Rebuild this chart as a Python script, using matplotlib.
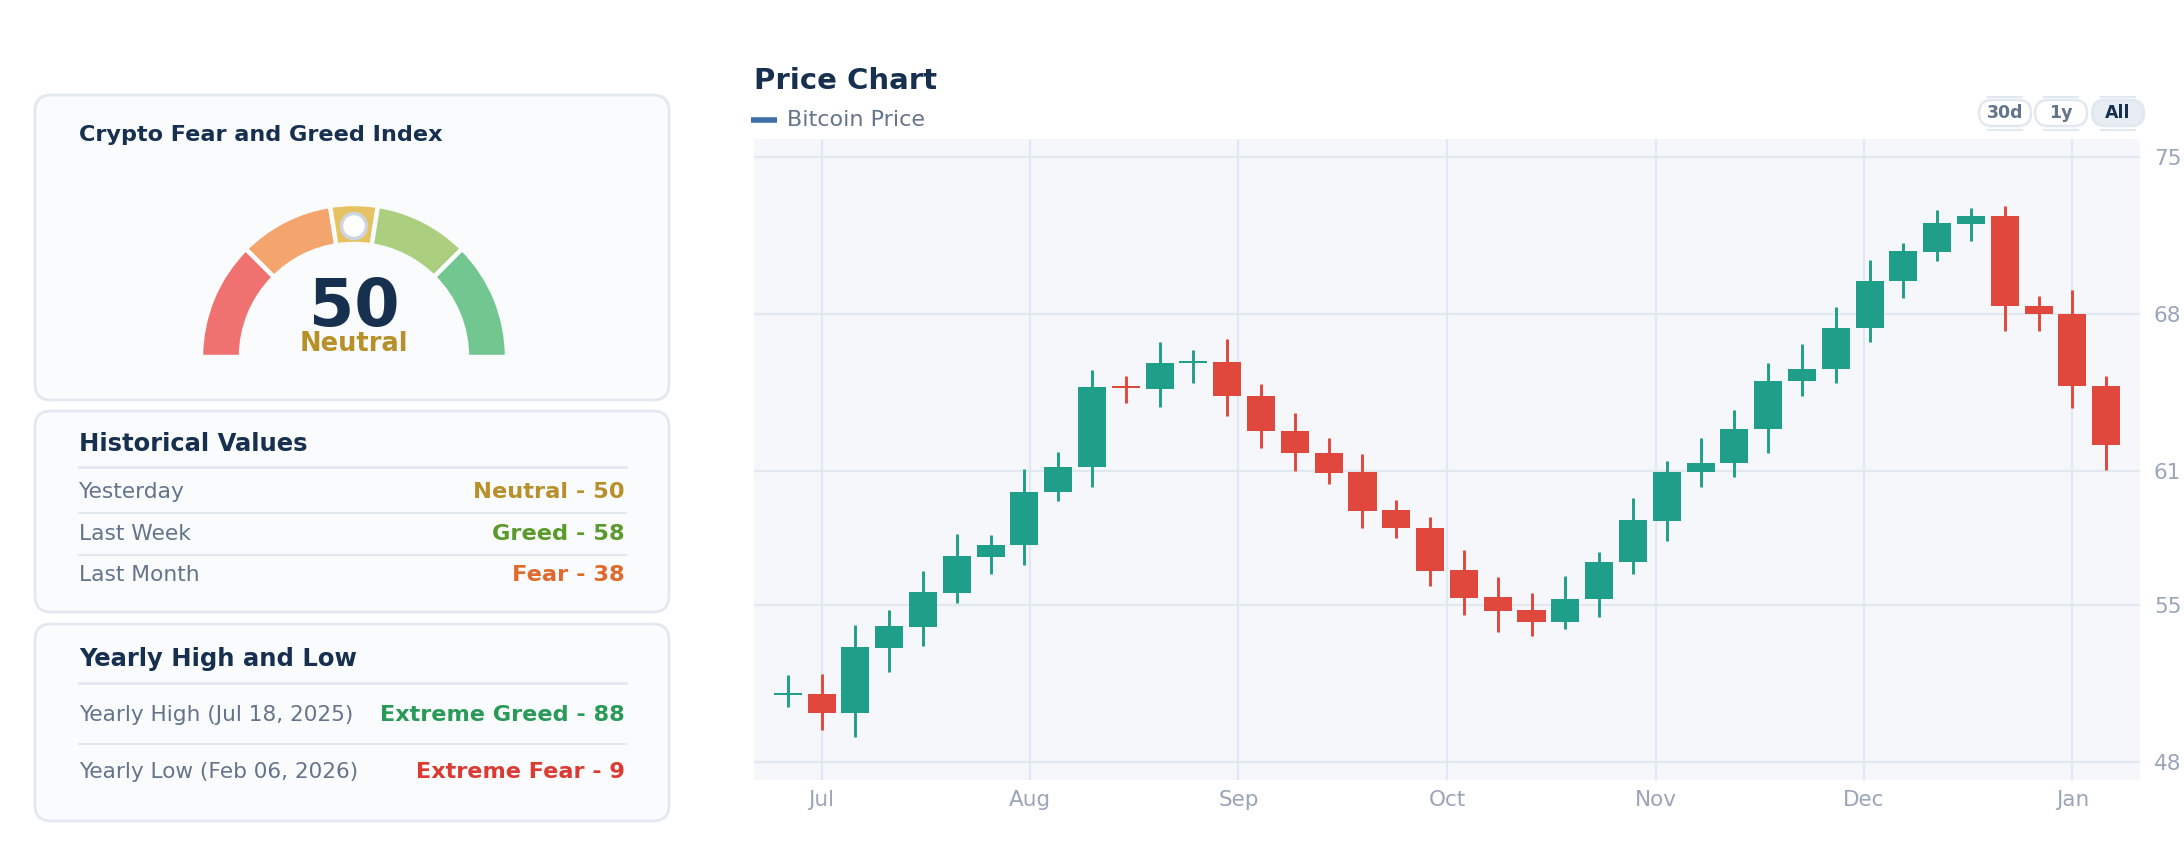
import matplotlib.pyplot as plt
import numpy as np
from matplotlib.patches import FancyBboxPatch, Wedge, Circle

W, H = 2184, 868

# candle data (one candle every few days, Jul -> Jan)
opens = [51.00, 51.02, 50.17, 53.09, 54.02, 55.56, 57.15, 57.68, 60.05, 61.16,
         64.72, 64.64, 65.82, 65.85, 64.32, 62.77, 61.78, 60.92, 59.23, 58.46,
         56.55, 55.36, 54.78, 54.26, 55.26, 56.91, 58.76, 60.94, 61.34, 62.85,
         65.00, 65.52, 67.35, 69.45, 70.78, 72.02, 72.36, 68.36, 68.00, 64.80]
highs = [51.88, 51.92, 54.10, 54.76, 56.53, 58.18, 58.14, 61.08, 61.84, 65.48,
         65.24, 66.73, 66.41, 66.89, 64.86, 63.57, 62.47, 61.74, 59.69, 58.94,
         57.46, 56.27, 55.56, 56.31, 57.38, 59.79, 61.44, 62.45, 63.71, 65.79,
         66.65, 68.30, 70.39, 71.18, 72.65, 72.75, 72.83, 68.82, 69.06, 65.22]
lows = [50.43, 49.41, 49.13, 52.00, 53.17, 55.08, 56.37, 56.81, 59.65, 60.29,
        64.03, 63.85, 64.92, 63.45, 62.02, 60.98, 60.39, 58.46, 58.00, 55.83,
        54.56, 53.79, 53.61, 53.93, 54.46, 56.41, 57.84, 60.29, 60.72, 61.80,
        64.34, 64.92, 66.75, 68.70, 70.35, 71.24, 67.25, 67.25, 63.81, 61.04]
closes = [51.02, 50.17, 53.13, 54.06, 55.58, 57.19, 57.70, 60.07, 61.18, 64.74,
          64.68, 65.81, 65.85, 64.32, 62.77, 61.78, 60.88, 59.19, 58.44, 56.53,
          55.32, 54.74, 54.26, 55.26, 56.91, 58.78, 60.96, 61.36, 62.87, 65.02,
          65.56, 67.37, 69.47, 70.80, 72.06, 72.36, 68.34, 68.00, 64.76, 62.14]

month_labels = ["Jul", "Aug", "Sep", "Oct", "Nov", "Dec", "Jan"]
month_pos = [1.0, 7.17, 13.33, 19.5, 25.67, 31.83, 38.0]
y_ticks = [48, 55, 61, 68, 75]

gauge_value = 50
gauge_label = "Neutral"
gauge_bounds = [0, 25, 45, 55, 75, 100]
gauge_colors = ["#f07270", "#f4a46d", "#e6c261", "#abcf7f", "#72c68f"]

hist_labels = ["Yesterday", "Last Week", "Last Month"]
hist_values = ["Neutral - 50", "Greed - 58", "Fear - 38"]
hist_colors = ["#b8902a", "#5b9a2c", "#e06a2c"]

year_labels = ["Yearly High (Jul 18, 2025)", "Yearly Low (Feb 06, 2026)"]
year_values = ["Extreme Greed - 88", "Extreme Fear - 9"]
year_colors = ["#2a9a58", "#dc3b33"]

NAVY = "#17304f"
GRAY = "#64748b"
LINE = "#e2e8f0"
CARD = "#fafbfd"
UP = "#1f9e89"
DOWN = "#e0483e"

fig = plt.figure(figsize=(W / 100, H / 100), dpi=100)
fig.patch.set_facecolor("white")

bg = fig.add_axes([0, 0, 1, 1])
bg.set_xlim(0, W)
bg.set_ylim(H, 0)
bg.axis("off")


def card(y0, y1):
    bg.add_patch(FancyBboxPatch((35, y0), 634, y1 - y0,
                                boxstyle="round,pad=0,rounding_size=16",
                                facecolor=CARD, edgecolor=LINE, linewidth=2))


card(95, 400)
card(411, 612)
card(624, 821)

bg.text(79, 135, "Crypto Fear and Greed Index", fontsize=16.1, fontweight="bold",
        color=NAVY, va="center", ha="left")

# historical values
bg.text(79, 444, "Historical Values", fontsize=17.5, fontweight="bold",
        color=NAVY, va="center", ha="left")
bg.plot([79, 626], [467, 467], color=LINE, lw=2)
row_y = [492, 534, 575]
for i, (lab, val, col) in enumerate(zip(hist_labels, hist_values, hist_colors)):
    bg.text(79, row_y[i], lab, fontsize=15.7, color=GRAY, va="center", ha="left")
    bg.text(625, row_y[i], val, fontsize=16.2, fontweight="bold", color=col,
            va="center", ha="right")
    if i < len(hist_labels) - 1:
        bg.plot([79, 626], [row_y[i] + 21, row_y[i] + 21], color=LINE, lw=1.5)

# yearly high / low
bg.text(79, 659, "Yearly High and Low", fontsize=17.5, fontweight="bold",
        color=NAVY, va="center", ha="left")
bg.plot([79, 626], [683, 683], color=LINE, lw=2)
row_y = [715, 772]
for i, (lab, val, col) in enumerate(zip(year_labels, year_values, year_colors)):
    bg.text(79, row_y[i], lab, fontsize=15.6, color=GRAY, va="center", ha="left")
    bg.text(625, row_y[i], val, fontsize=16.1, fontweight="bold", color=col,
            va="center", ha="right")
bg.plot([79, 626], [744, 744], color=LINE, lw=1.5)

# price chart header
bg.text(754, 81, "Price Chart", fontsize=21, fontweight="bold", color=NAVY,
        va="center", ha="left")
bg.plot([751, 777], [120, 120], color="#3e6ea5", lw=4, solid_capstyle="butt")
bg.text(787, 120, "Bitcoin Price", fontsize=16, color=GRAY, va="center", ha="left")

# range buttons
buttons = ["30d", "1y", "All"]
btn_x = [2005, 2061, 2118]
for b, cx in zip(buttons, btn_x):
    active = b == "All"
    bg.add_patch(FancyBboxPatch((cx - 26, 100), 52, 26,
                                boxstyle="round,pad=0,rounding_size=13",
                                facecolor="#e8edf3" if active else "white",
                                edgecolor=LINE, linewidth=1.8))
    bg.plot([cx - 17, cx + 17], [97, 97], color=LINE, lw=1.5)
    bg.plot([cx - 17, cx + 17], [129.5, 129.5], color=LINE, lw=1.5)
    bg.text(cx, 113, b, fontsize=12.5, fontweight="bold",
            color=NAVY if active else GRAY, va="center", ha="center")

# gauge
ga = fig.add_axes([179 / W, 1 - 380 / H, 350 / W, 200 / H])
ga.set_xlim(-175, 175)
ga.set_ylim(-25, 175)
ga.set_aspect("equal")
ga.axis("off")
for lo, hi, col in zip(gauge_bounds[:-1], gauge_bounds[1:], gauge_colors):
    ga.add_patch(Wedge((0, -2), 153, 180 - 1.8 * hi, 180 - 1.8 * lo, width=40,
                       facecolor=col, edgecolor=CARD, linewidth=3.2))
ang = np.radians(180 - 1.8 * gauge_value)
ga.add_patch(Circle((131 * np.cos(ang), 131 * np.sin(ang) - 2), 12.5,
                    facecolor="white", edgecolor="#cdd5e0", linewidth=2.5))
ga.text(0, 29, str(gauge_value), fontsize=47, fontweight="bold", color=NAVY,
        ha="center", va="baseline")
ga.text(0, 4, gauge_label, fontsize=18.5, fontweight="bold", color="#b8902a",
        ha="center", va="baseline")

# candlestick chart
ax = fig.add_axes([754 / W, 1 - 780 / H, (2140 - 754) / W, (780 - 139) / H])
ax.set_facecolor("#f5f7fb")
x = np.arange(len(opens))
o = np.array(opens)
c = np.array(closes)
cols = [UP if cc >= oo else DOWN for oo, cc in zip(o, c)]
ax.vlines(x, lows, highs, colors=cols, linewidth=2.1, zorder=2)
body = np.maximum(np.abs(c - o), 0.09)
ax.bar(x, body, bottom=np.minimum(o, c), width=0.83, color=cols, zorder=3)

ax.set_xlim(-1, 40)
ax.set_ylim(47.19, 75.81)
ax.set_xticks(month_pos)
ax.set_xticklabels(month_labels)
ax.set_yticks(y_ticks)
ax.yaxis.tick_right()
ax.tick_params(axis="both", length=0, labelsize=15.5, labelcolor="#9aa5b8")
ax.tick_params(axis="x", pad=7)
ax.tick_params(axis="y", pad=10)
ax.grid(True, color=LINE, linewidth=1.6)
ax.set_axisbelow(True)
for s in ax.spines.values():
    s.set_visible(False)

fig.savefig("out.png", dpi=100, facecolor="white")
